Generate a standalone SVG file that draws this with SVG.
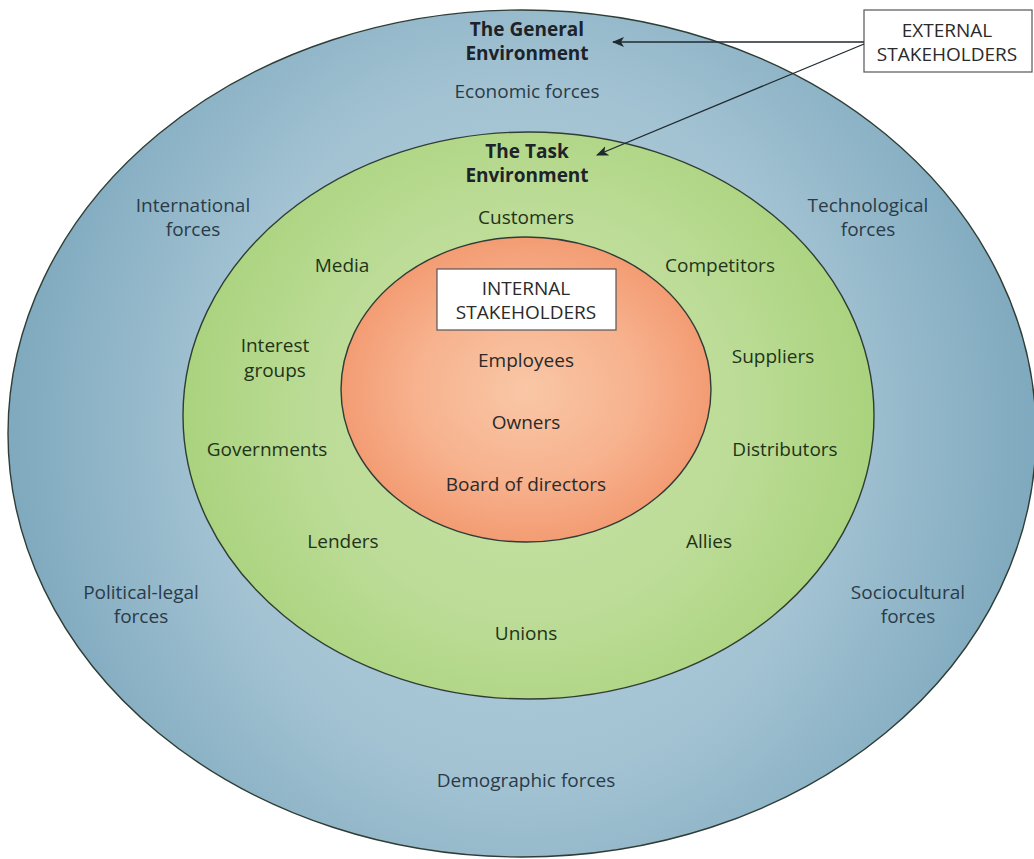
<svg xmlns="http://www.w3.org/2000/svg" width="1034" height="859" viewBox="0 0 1034 859">
<defs>
<radialGradient id="gBlue" cx="0.5" cy="0.5" r="0.5" gradientTransform="translate(0.5 0.5) scale(1 1.35) translate(-0.5 -0.5)">
<stop offset="0" stop-color="#b2cfdc"/>
<stop offset="0.6" stop-color="#a3c3d3"/>
<stop offset="1" stop-color="#7fa9be"/>
</radialGradient>
<radialGradient id="gGreen" cx="0.5" cy="0.5" r="0.5" gradientTransform="translate(0.5 0.5) scale(1 1.2) translate(-0.5 -0.5)">
<stop offset="0" stop-color="#c6e2a6"/>
<stop offset="0.6" stop-color="#bcdc97"/>
<stop offset="1" stop-color="#aad37e"/>
</radialGradient>
<radialGradient id="gOrange" cx="0.5" cy="0.5" r="0.5">
<stop offset="0" stop-color="#f9c7a6"/>
<stop offset="0.6" stop-color="#f7b28e"/>
<stop offset="1" stop-color="#f39c73"/>
</radialGradient>
<marker id="arr" markerWidth="12" markerHeight="10" refX="11" refY="5" orient="auto" markerUnits="userSpaceOnUse">
<path d="M0,0 L12,5 L0,10 L3,5 Z" fill="#1f2a30"/>
</marker>
</defs>
<style>
.ring{stroke:#2f3d35;stroke-width:1.4}
.t{font-family:"Open Sans","Noto Sans","Liberation Sans",sans-serif;font-size:19px;text-anchor:middle}
.tb{font-family:"Open Sans","Noto Sans","Liberation Sans",sans-serif;font-size:19px;font-weight:bold;text-anchor:middle;fill:#1d2328}
.blue{fill:#2a3b48}
.green{fill:#1f3319}
.dark{fill:#2a2a2a}
.box{fill:#ffffff;stroke:#555;stroke-width:1.2}
.conn{stroke:#1f2a30;stroke-width:1.3;fill:none}
</style>
<rect width="1034" height="859" fill="#ffffff"/>
<g id="general-environment">
<ellipse class="ring" cx="522" cy="433.5" rx="514" ry="423.5" fill="url(#gBlue)"/>
<text class="tb" x="527" y="36">The General</text>
<text class="tb" x="527" y="60">Environment</text>
<text class="t blue" x="527" y="98">Economic forces</text>
<text class="t blue" x="193" y="212">International</text>
<text class="t blue" x="193" y="236">forces</text>
<text class="t blue" x="868" y="212">Technological</text>
<text class="t blue" x="868" y="236">forces</text>
<text class="t blue" x="141" y="599">Political-legal</text>
<text class="t blue" x="141" y="623">forces</text>
<text class="t blue" x="908" y="599">Sociocultural</text>
<text class="t blue" x="908" y="623">forces</text>
<text class="t blue" x="526" y="787">Demographic forces</text>
</g>
<g id="task-environment">
<ellipse class="ring" cx="528.5" cy="415.5" rx="345.5" ry="283.5" fill="url(#gGreen)"/>
<text class="tb" x="527" y="158">The Task</text>
<text class="tb" x="527" y="182">Environment</text>
<text class="t green" x="526" y="224">Customers</text>
<text class="t green" x="342" y="272">Media</text>
<text class="t green" x="720" y="272">Competitors</text>
<text class="t green" x="275" y="352">Interest</text>
<text class="t green" x="275" y="377">groups</text>
<text class="t green" x="773" y="363">Suppliers</text>
<text class="t green" x="267" y="456">Governments</text>
<text class="t green" x="785" y="456">Distributors</text>
<text class="t green" x="343" y="548">Lenders</text>
<text class="t green" x="709" y="548">Allies</text>
<text class="t green" x="526" y="640">Unions</text>
</g>
<g id="internal">
<ellipse class="ring" cx="526" cy="389.5" rx="185" ry="152.5" fill="url(#gOrange)"/>
<text class="t dark" x="526" y="367">Employees</text>
<text class="t dark" x="526" y="429">Owners</text>
<text class="t dark" x="526" y="491">Board of directors</text>
</g>
<g id="internal-stakeholders">
<rect class="box" x="437" y="269" width="179" height="61"/>
<text class="t dark" x="526" y="295">INTERNAL</text>
<text class="t dark" x="526" y="319">STAKEHOLDERS</text>
</g>
<g id="external-stakeholders">
<rect class="box" x="864" y="10" width="168" height="62"/>
<text class="t dark" x="947" y="37">EXTERNAL</text>
<text class="t dark" x="947" y="61">STAKEHOLDERS</text>
</g>
<g id="connectors">
<line class="conn" x1="864" y1="42" x2="613" y2="42" marker-end="url(#arr)"/>
<line class="conn" x1="864" y1="44" x2="597" y2="155" marker-end="url(#arr)"/>
</g>
</svg>
